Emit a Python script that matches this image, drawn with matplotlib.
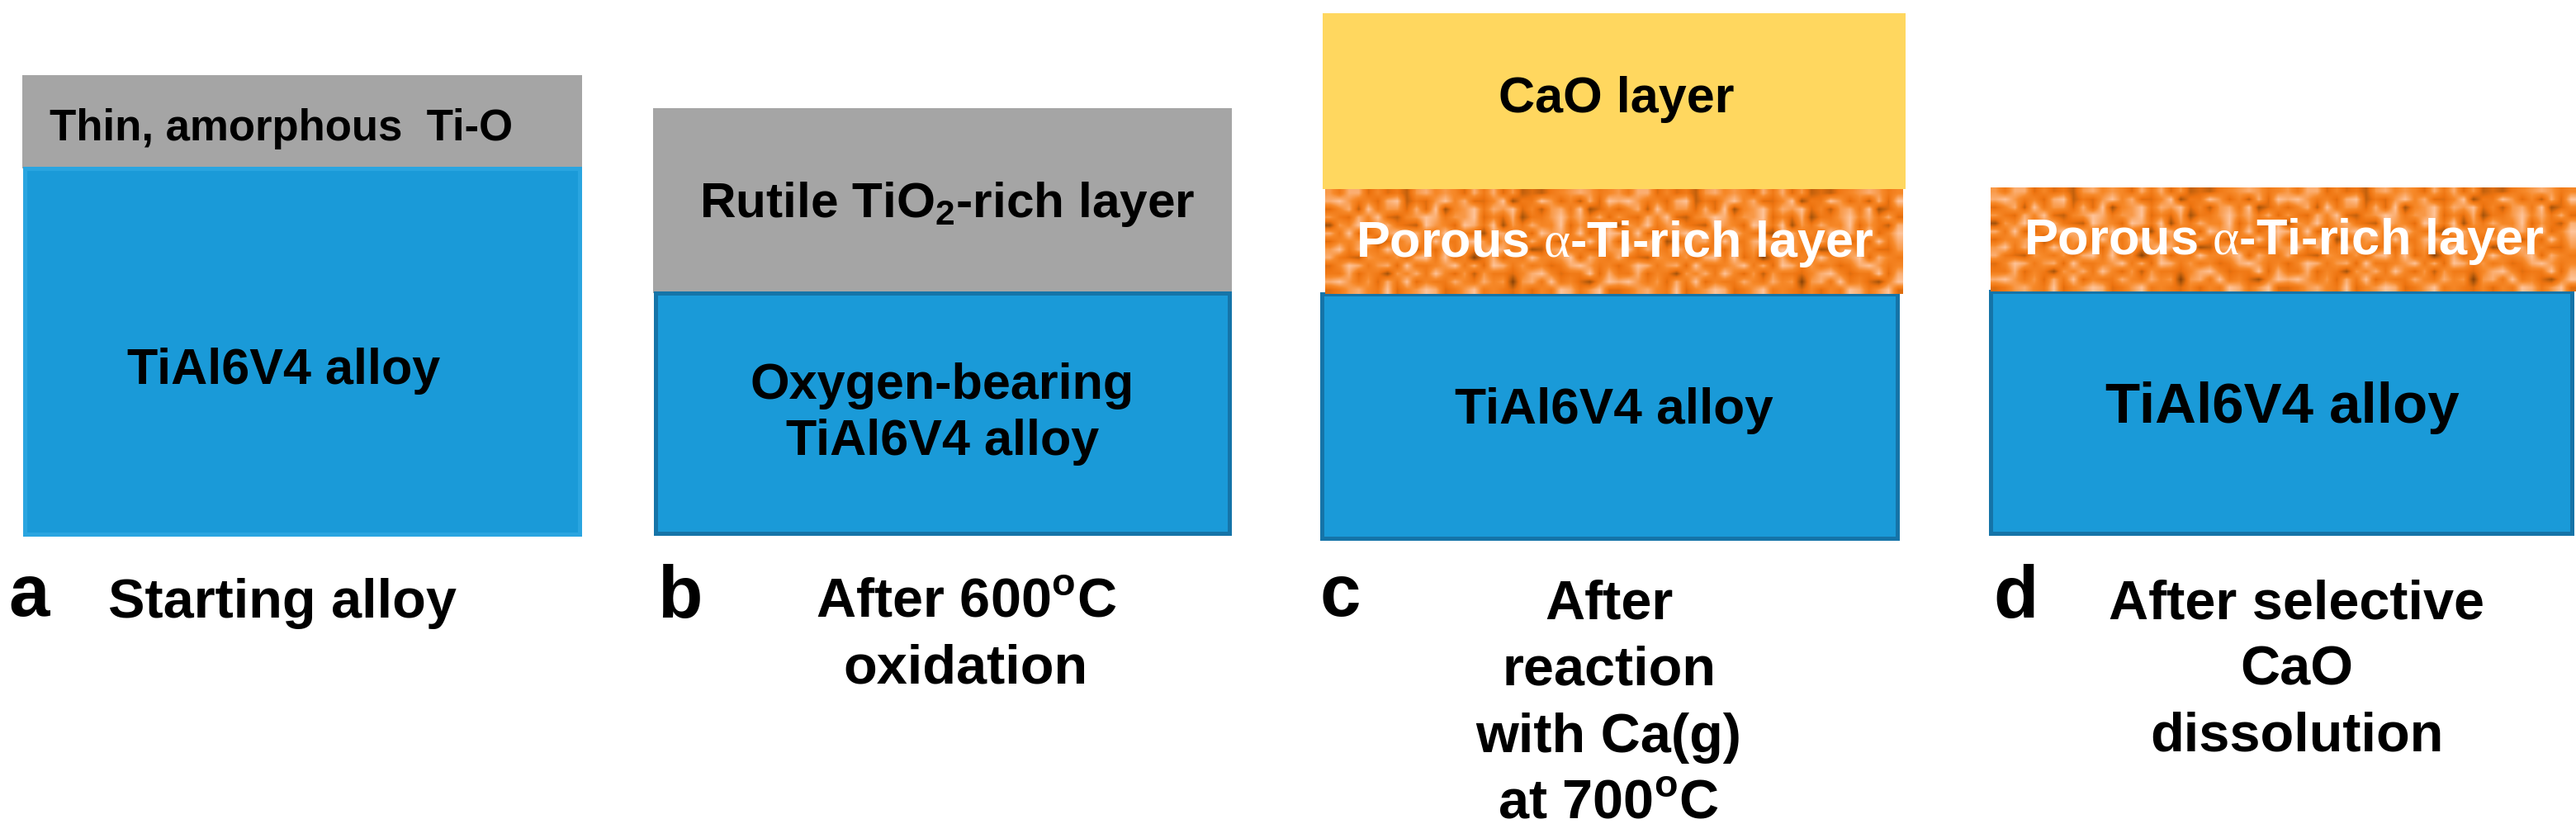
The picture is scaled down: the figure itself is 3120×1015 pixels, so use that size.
import numpy as np
import matplotlib.pyplot as plt
from matplotlib.colors import LinearSegmentedColormap

plt.rcParams['font.family'] = ['Liberation Sans', 'DejaVu Sans']
plt.rcParams['mathtext.fontset'] = 'custom'
plt.rcParams['mathtext.rm'] = 'Liberation Sans:bold'
plt.rcParams['mathtext.bf'] = 'Liberation Sans:bold'
plt.rcParams['mathtext.cal'] = 'Liberation Serif'

W, H = 3120, 1015

# layer extents, in picture pixels
gray_left = [27, 791]
gray_right = [705, 1492]
gray_top = [91, 131]
gray_bottom = [204, 355]

blue_left = [27, 791, 1598, 2408]
blue_right = [705, 1492, 2301, 3118]
blue_top = [204, 355, 356, 353]
blue_bottom = [650, 649, 655, 649]
blue_edges = ['#2aa5e0', '#1574a8', '#1574a8', '#1574a8']

yellow_left, yellow_right, yellow_top, yellow_bottom = 1602, 2308, 16, 229

orange_left = [1605, 2411]
orange_right = [2305, 3120]
orange_top = [229, 227]
orange_bottom = [356, 353]

# mottled grain of the porous layer, 0 dark to 9 light
grain_rows = [
    "758846453786764858473435678756",
    "897564893547968446925597463849",
    "468395774849267958794637859246",
    "754869436798577946482557968584",
    "276957854397649859275866947538",
    "859446798855965428856497859469",
    "466792457849558974764855364958",
    "795865966364857579857237856447",
    "854376574895946158465966794865",
    "469857849556795849857564589756",
    "558465276859647375546896455948",
    "897574859465586586717859564269",
    "457865946798457956546465985794",
]

panel_labels = ['a', 'b', 'c', 'd']
label_x = [10, 796, 1598, 2414]
label_y = [746, 748, 746, 748]

alpha_label = 'Porous $\\mathcal{\\alpha}$-Ti-rich layer'

# (text, x centre, baseline, size in pt, colour)
layer_texts = [
    ('Thin, amorphous  Ti-O', 341, 170, 38, 'black'),
    ('TiAl6V4 alloy', 344, 465, 44, 'black'),
    ('Rutile TiO$_{2}$-rich layer', 1147, 263, 43.5, 'black'),
    ('Oxygen-bearing', 1141, 483, 44, 'black'),
    ('TiAl6V4 alloy', 1142, 551, 44, 'black'),
    ('CaO layer', 1958, 136, 44, 'black'),
    (alpha_label, 1956, 311, 44, 'white'),
    ('TiAl6V4 alloy', 1955, 513, 44.7, 'black'),
    (alpha_label, 2766, 308, 44.2, 'white'),
    ('TiAl6V4 alloy', 2764, 512, 49.7, 'black'),
]

caption_texts = [
    ('Starting alloy', 342, 748),
    ('After 600$^{\\mathrm{o}}$C', 1170, 748),
    ('oxidation', 1169, 827),
    ('After', 1949, 749),
    ('reaction', 1949, 830),
    ('with Ca(g)', 1948, 911),
    ('at 700$^{\\mathrm{o}}$C', 1948, 991),
    ('After selective', 2782, 749),
    ('CaO', 2782, 830),
    ('dissolution', 2782, 910),
]

fig = plt.figure(figsize=(W / 100, H / 100), dpi=100)
ax = fig.add_axes([0, 0, 1, 1])
ax.set_xlim(0, W)
ax.set_ylim(H, 0)
ax.axis('off')

grain = np.array([[int(c) for c in row] for row in grain_rows], dtype=float)
orange_cmap = LinearSegmentedColormap.from_list(
    'grain', [(0, '#6b3306'), (0.3, '#b85c0c'), (0.5, '#ee7410'), (0.7, '#f78a2a'), (1, '#fec49a')])

for i in range(len(gray_left)):
    ax.bar(gray_left[i], gray_bottom[i] - gray_top[i], gray_right[i] - gray_left[i],
           bottom=gray_top[i], align='edge', color='#a5a5a5', linewidth=0, zorder=1)

for i in range(len(blue_left)):
    ax.bar(blue_left[i] + 3, blue_bottom[i] - blue_top[i] - 3, blue_right[i] - blue_left[i] - 6,
           bottom=blue_top[i], align='edge', color='#1a9ad8',
           edgecolor=blue_edges[i], linewidth=3.6, zorder=2)

ax.bar(yellow_left, yellow_bottom - yellow_top, yellow_right - yellow_left,
       bottom=yellow_top, align='edge', color='#ffd75f', linewidth=0, zorder=3)

for i in range(len(orange_left)):
    tile = np.tile(grain, (1, 2))
    ax.imshow(tile, cmap=orange_cmap, vmin=0, vmax=9, interpolation='bilinear', aspect='auto',
              extent=[orange_left[i], orange_right[i], orange_bottom[i], orange_top[i]],
              zorder=4)

# imshow resets the limits
ax.set_xlim(0, W)
ax.set_ylim(H, 0)

for label, x, y, size, colour in layer_texts:
    ax.text(x, y, label, ha='center', va='baseline', fontsize=size, fontweight='bold',
            color=colour, zorder=5)

for label, x, y in caption_texts:
    ax.text(x, y, label, ha='center', va='baseline', fontsize=48, fontweight='bold',
            color='black', zorder=5)

for label, x, y in zip(panel_labels, label_x, label_y):
    ax.text(x, y, label, ha='left', va='baseline', fontsize=64, fontweight='bold',
            color='black', zorder=5)

fig.savefig('out.png', dpi=100, facecolor='white')
